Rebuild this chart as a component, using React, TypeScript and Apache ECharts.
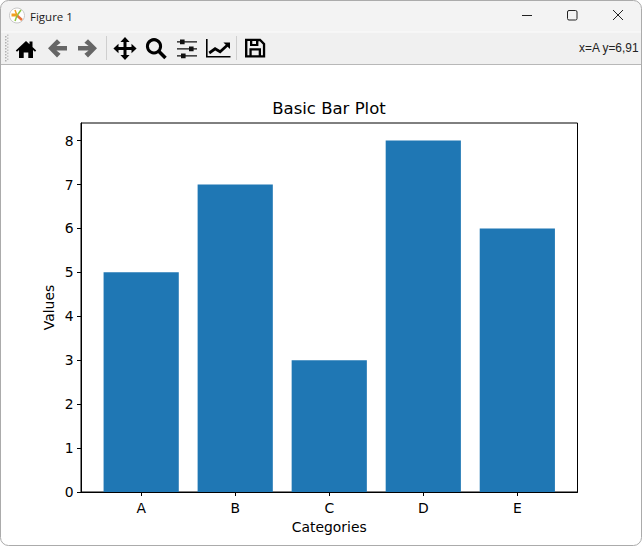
import React, { useEffect, useRef } from "react";
import * as echarts from "echarts";

const categories = ["A", "B", "C", "D", "E"];
const values = [5, 7, 3, 8, 6];
const yTicks = [0, 1, 2, 3, 4, 5, 6, 7, 8];
const xPositions = [0, 1, 2, 3, 4];
const chartTitle = "Basic Bar Plot";
const xName = "Categories";
const yName = "Values";
const windowTitle = "Figure 1";
const statusText = "x=A y=6,91";

const shapes: Record<string, string> = {
  iconHome:
    "M26 41 L29.5 44.2 V41.5 H32.5 V47 L36.2 50.4 L35 51.8 L33 50 V58 H28.3 V52.5 H23.7 V58 H19 V50 L17 51.8 L15.8 50.4 Z",
  iconBack:
    "M48 48.3 L57 39.3 L60.6 42.8 L56.4 46 H67 V50.6 H56.4 L60.6 53.8 L57 57.4 Z",
  iconForward:
    "M97 48.3 L88 39.3 L84.4 42.8 L88.6 46 H78 V50.6 H88.6 L84.4 53.8 L88 57.4 Z",
  iconMove:
    "M125 37 L129.6 42 H126.5 V47 H131.5 V43.8 L136.6 48.5 L131.5 53.2 V50 H126.5 V55 H129.6 L125 60 L120.4 55 H123.5 V50 H118.5 V53.2 L113.4 48.5 L118.5 43.8 V47 H123.5 V42 H120.4 Z",
  iconTrend:
    "M206 39 H207.6 V56 H230.5 V57.6 H206 Z M208.5 51.8 L215 47 L220 50 L225.8 44.8 L223.4 42.4 H230 V49 L227.6 46.8 L220.3 53.4 L215.2 50.4 L210 54.2 Z",
  iconSave:
    "M245 38.8 H260.5 L265.2 43.5 V57.6 H245 Z M247.4 41.1 V55.3 H249.4 V48.2 H261 V55.3 H262.9 V44.5 L259.8 41.2 H258.4 V46 H250 V41.1 Z M252.3 41.1 V43.9 H256 V41.1 Z M251.7 50.4 V55.3 H258.7 V50.4 Z",
  iconSliders:
    "M177 41.2 H180 V39.6 H184.6 V41.2 H197 V42.6 H184.6 V44.2 H180 V42.6 H177 Z M177 48.2 H189 V46.6 H193.6 V48.2 H197 V49.6 H193.6 V51.2 H189 V49.6 H177 Z M177 55.2 H181 V53.6 H185.6 V55.2 H197 V56.6 H185.6 V58.2 H181 V56.6 H177 Z",
};
Object.keys(shapes).forEach((name) => {
  echarts.graphic.registerShape(name, echarts.graphic.extendPath(shapes[name], {}));
});

const rect = (x: number, y: number, width: number, height: number, fill: string, r: any = 0, extra: any = {}) => ({
  type: "rect",
  silent: true,
  shape: { x, y, width, height, r },
  style: { fill, ...extra },
});
const line = (x1: number, y1: number, x2: number, y2: number, stroke: string, lineWidth = 1) => ({
  type: "line",
  silent: true,
  shape: { x1, y1, x2, y2 },
  style: { stroke, lineWidth, lineCap: "butt" },
});
const icon = (name: string, fill: string) => ({ type: name, silent: true, x: 0, y: 0, style: { fill } });

const gripDots = [36, 39, 42, 45, 48, 51, 54, 57, 60];

const chrome: any[] = [
  rect(0.5, 0.5, 641, 32, "#f3f3f3", [8, 8, 0, 0]),
  rect(1, 32, 640, 32, "#f0f0f0"),
  line(1, 32, 641, 32, "#fbfbfb"),
  line(1, 64.5, 641, 64.5, "#b8b8b8"),
  // app logo
  { type: "circle", silent: true, shape: { cx: 17, cy: 15.5, r: 7.5 }, style: { fill: "#fff", stroke: "#c8c8c8", lineWidth: 1 } },
  line(11.5, 15, 17, 15, "#f0a020", 3),
  line(17, 15.5, 22, 20, "#e8743b", 2.4),
  line(17, 15.5, 21, 10, "#8cc63f", 1.5),
  line(17, 15.5, 15, 21, "#8cc63f", 1.5),
  line(15, 10, 17, 15.5, "#f0a020", 1.5),
  // title-bar text and window controls
  {
    type: "text", silent: true, x: 30, y: 16,
    style: { text: windowTitle, fontFamily: "Open Sans", fontSize: 11.5, fill: "#1a1a1a", textVerticalAlign: "middle" },
  },
  line(522, 15.5, 532, 15.5, "#222"),
  { type: "rect", silent: true, shape: { x: 567.5, y: 10.5, width: 9.5, height: 9.5, r: 1.5 }, style: { fill: "none", stroke: "#222", lineWidth: 1 } },
  line(613, 10, 623, 20, "#222"),
  line(623, 10, 613, 20, "#222"),
  // toolbar
  ...gripDots.map((y) => rect(5, y, 1.5, 1.5, "#b0b0b0")),
  ...gripDots.map((y) => rect(7, y - 1.5, 1.5, 1.5, "#c4c4c4")),
  line(106.5, 36, 106.5, 60, "#cfcfcf"),
  line(236.5, 36, 236.5, 60, "#cfcfcf"),
  icon("iconHome", "#000"),
  icon("iconBack", "#666"),
  icon("iconForward", "#666"),
  icon("iconMove", "#000"),
  { type: "circle", silent: true, shape: { cx: 154, cy: 46.3, r: 6.6 }, style: { fill: "none", stroke: "#000", lineWidth: 3 } },
  line(159, 51.5, 165.5, 58, "#000", 3.6),
  icon("iconSliders", "#111"),
  icon("iconTrend", "#000"),
  icon("iconSave", "#000"),
  {
    type: "text", silent: true, x: 638.5, y: 47.5,
    style: { text: statusText, fontFamily: "Liberation Sans", fontSize: 11.9, fill: "#222", textAlign: "right", textVerticalAlign: "middle" },
  },
  // window border
  { type: "rect", silent: true, z: 100, shape: { x: 0.5, y: 0.5, width: 641, height: 545, r: 8 }, style: { fill: "none", stroke: "#ababab", lineWidth: 1 } },
];

export default function App() {
  const ref = useRef<HTMLDivElement>(null);
  useEffect(() => {
    document.body.style.margin = "0";
    const chart = echarts.init(ref.current!, undefined, { renderer: "svg" });
    const tickFont = { fontFamily: "DejaVu Sans", fontSize: 13.9, color: "#000" };
    chart.setOption({
      animation: false,
      backgroundColor: "#ffffff",
      title: {
        text: chartTitle,
        left: 324,
        top: 95,
        textAlign: "center",
        textStyle: { fontFamily: "DejaVu Sans", fontSize: 16.5, fontWeight: "normal", color: "#000" },
      },
      grid: { left: 81, top: 123, width: 496.5, height: 369, show: true, borderColor: "#000", borderWidth: 1, backgroundColor: "transparent" },
      xAxis: {
        type: "value",
        min: -0.64,
        max: 4.64,
        name: xName,
        nameLocation: "middle",
        nameMoveOverlap: false,
        nameGap: 28,
        nameTextStyle: tickFont,
        splitLine: { show: false },
        axisLine: { show: true, onZero: false, lineStyle: { color: "#000", width: 1 } },
        axisTick: { show: true, length: 4, lineStyle: { color: "#000", width: 1 }, customValues: xPositions },
        axisLabel: {
          ...tickFont,
          margin: 9,
          customValues: xPositions,
          formatter: (v: number) => categories[Math.round(v)],
        },
      },
      yAxis: {
        type: "value",
        min: 0,
        max: 8.4,
        name: yName,
        nameLocation: "middle",
        nameMoveOverlap: false,
        nameGap: 25,
        nameTextStyle: tickFont,
        splitLine: { show: false },
        axisLine: { show: true, onZero: false, lineStyle: { color: "#000", width: 1 } },
        axisTick: { show: true, length: 4, lineStyle: { color: "#000", width: 1 }, customValues: yTicks },
        axisLabel: { ...tickFont, margin: 7.5, customValues: yTicks },
      },
      graphic: { elements: chrome },
      series: [
        {
          type: "bar",
          barWidth: 75.2,
          itemStyle: { color: "#1f77b4" },
          data: values.map((v, i) => [xPositions[i], v]),
        },
      ],
    });
    return () => chart.dispose();
  }, []);
  return <div ref={ref} style={{ width: 642, height: 546 }} />;
}
